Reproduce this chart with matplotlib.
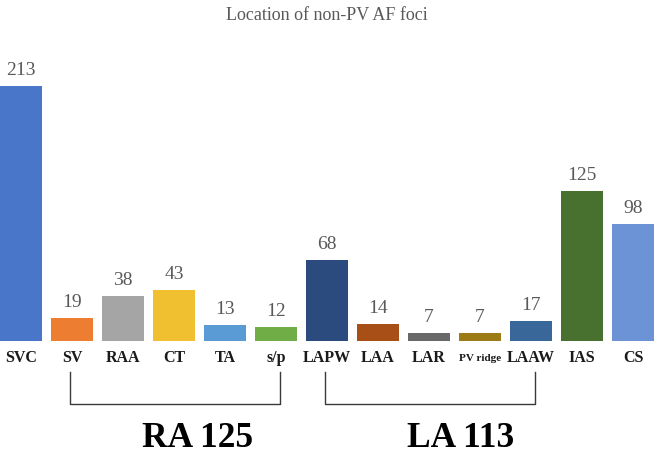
import matplotlib
matplotlib.use("Agg")
import matplotlib.pyplot as plt
from matplotlib.lines import Line2D
from matplotlib.transforms import blended_transform_factory

categories = ["SVC", "SV", "RAA", "CT", "TA", "s/p", "LAPW", "LAA", "LAR", "PV ridge", "LAAW", "IAS", "CS"]
values = [213, 19, 38, 43, 13, 12, 68, 14, 7, 7, 17, 125, 98]
colors = ["#4A76C9", "#ED7D31", "#A5A5A5", "#F0C030", "#5B9BD5", "#70AD47",
          "#2B4A7E", "#A84E17", "#686868", "#9C7A16", "#3A679A", "#48702F", "#6B93D6"]
groups = [("RA 125", 1, 5), ("LA 113", 6, 10)]
group_label_shift = [0.47, 0.61]

W, H = 654, 455
fig = plt.figure(figsize=(W/100, H/100), dpi=100)
base_px = 341
top_px = 60
ax = fig.add_axes([0, (H-base_px)/H, 1, (base_px-top_px)/H])
ymax = (base_px-top_px)/1.197
x = list(range(len(categories)))
ax.bar(x, values, width=0.82, color=colors)
ax.set_xlim(-0.41, len(categories)-1+0.41)
ax.set_ylim(0, ymax)
ax.axis("off")
serif = "Liberation Serif"
for xi, v in zip(x, values):
    ax.annotate(str(v), (xi, v), xytext=(0, 5), textcoords="offset points",
                ha="center", va="bottom", fontsize=14, color="#595959", family=serif)
for xi, c in zip(x, categories):
    fs = 8 if c == "PV ridge" else 11.5
    ax.annotate(c, (xi, 0), xytext=(0, -12.5), textcoords="offset points",
                ha="center", va="center", fontsize=fs, fontweight="bold", color="#1a1a1a", family=serif)

fig.text(0.5, 1-15/H, "Location of non-PV AF foci", ha="center", va="center",
         fontsize=13, color="#595959", family=serif)

tr = blended_transform_factory(ax.transData, fig.transFigure)
y1 = 1-372/H
y2 = 1-404/H
for (label, a, b), sh in zip(groups, group_label_shift):
    line = Line2D([a-0.04, a-0.04, b+0.08, b+0.08], [y1, y2, y2, y1], transform=tr,
                  color="#3a3a3a", lw=1.0)
    fig.add_artist(line)
    xc = (a+b)/2 + sh
    fig.text(xc, 1-447/H, label, transform=tr, ha="center", va="baseline",
             fontsize=25.5, fontweight="bold", color="black", family=serif)

fig.savefig("out.png", dpi=100)
